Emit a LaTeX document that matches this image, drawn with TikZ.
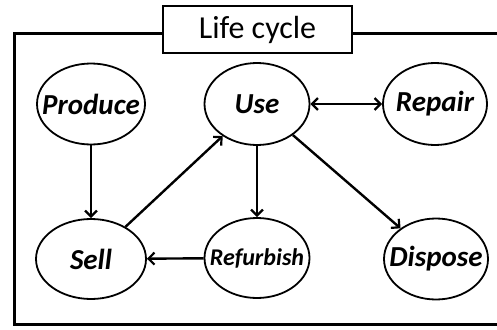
\documentclass[tikz,border=0pt]{standalone}
\usepackage{fontspec}
\setmainfont{Carlito}
\usetikzlibrary{shapes.geometric,arrows.meta}
\tikzset{
  stage/.style={ellipse,draw,line width=1.8pt,inner sep=0pt},
  stagetext/.style={font=\fontsize{29}{29}\selectfont\bfseries\itshape,inner sep=0pt},
  flow/.style={line width=2.4pt,-{Straight Barb[length=6pt,width=12pt,line width=2.2pt]}},
  bothflow/.style={line width=2.4pt,{Straight Barb[length=6pt,width=12pt,line width=2.2pt]}-{Straight Barb[length=6pt,width=12pt,line width=2.2pt]}}
}
\begin{document}
\begin{tikzpicture}[x=1pt,y=-1pt]
\useasboundingbox (0,0) rectangle (497,329);
\draw[line width=3pt] (505,33.5) -- (14.7,33.5) -- (14.7,324.7) -- (505,324.7);
\node[draw,fill=white,line width=1.6pt,minimum width=189pt,minimum height=47pt,inner sep=0pt,font=\fontsize{32}{32}\selectfont] (title) at (257.5,29.5) {Life cycle};
\node[stage,minimum width=108pt,minimum height=81pt,label={[stagetext]center:Produce}] (produce) at (91,104) {};
\node[stage,minimum width=105pt,minimum height=82pt,label={[stagetext]center:Use}] (use) at (257,104) {};
\node[stage,minimum width=104pt,minimum height=82pt,label={[stagetext]center:Repair}] (repair) at (435,104) {};
\node[stage,minimum width=110pt,minimum height=80pt,label={[stagetext]center:Sell}] (sell) at (91,259) {};
\node[stage,minimum width=105pt,minimum height=80pt,label={[stagetext,font=\fontsize{24}{24}\selectfont\bfseries\itshape]center:Refurbish}] (refurbish) at (257,258) {};
\node[stage,minimum width=104pt,minimum height=81pt,label={[stagetext]center:Dispose}] (dispose) at (436,259) {};
\draw[flow] (produce) -- (sell);
\draw[flow] (sell) -- (use);
\draw[flow] (use) -- (refurbish);
\draw[flow] (use) -- (dispose);
\draw[flow] (refurbish) -- (sell);
\draw[bothflow] (use) -- (repair);
\end{tikzpicture}
\end{document}
